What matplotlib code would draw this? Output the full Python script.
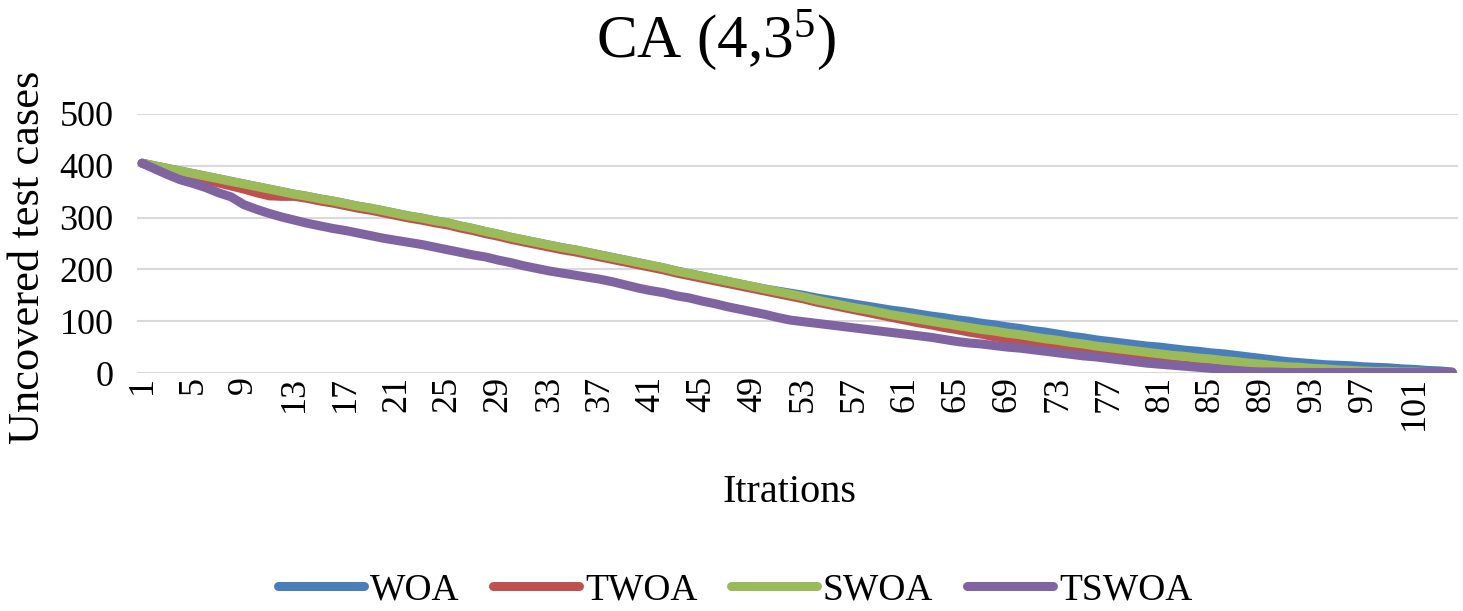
import matplotlib
matplotlib.use("Agg")
import matplotlib.pyplot as plt
import numpy as np

iterations = list(range(1, 105))

swoa = [405, 400, 395, 390, 385, 380, 375, 370, 365, 360,
        355, 350, 345, 341, 336, 332, 327, 322, 318, 313,
        308, 303, 299, 294, 290, 284, 279, 273, 268, 262,
        257, 252, 247, 242, 238, 233, 228, 223, 218, 213,
        208, 203, 197, 192, 187, 182, 177, 172, 167, 162,
        157, 152, 147, 141, 136, 131, 126, 122, 117, 112,
        108, 104, 100, 96, 92, 88, 84, 81, 77, 74,
        70, 66, 63, 59, 56, 52, 49, 46, 43, 40,
        37, 34, 32, 29, 27, 24, 22, 19, 17, 14,
        12, 11, 9, 8, 6, 5, 4, 3, 3, 2,
        2, 1, 1, 1]

woa = [405, 400, 395, 390, 385, 380, 375, 370, 365, 360,
       355, 350, 345, 341, 336, 332, 327, 322, 318, 313,
       308, 303, 299, 294, 290, 284, 279, 273, 268, 262,
       257, 252, 247, 242, 238, 233, 228, 223, 218, 213,
       208, 203, 197, 192, 187, 182, 177, 172, 167, 162,
       158, 154, 150, 145, 141, 137, 133, 129, 125, 121,
       118, 114, 110, 107, 103, 100, 96, 93, 89, 86,
       82, 79, 75, 71, 68, 64, 61, 58, 55, 52,
       50, 47, 44, 42, 39, 37, 34, 31, 28, 25,
       22, 20, 18, 16, 15, 14, 12, 11, 10, 8,
       7, 5, 4, 2]

twoa = [405, 399, 393, 387, 380, 373, 367, 361, 355, 348,
        342, 341, 341, 337, 332, 328, 323, 318, 314, 309,
        304, 299, 295, 290, 286, 280, 275, 269, 264, 258,
        253, 248, 243, 238, 234, 229, 224, 219, 214, 209,
        204, 199, 193, 188, 183, 178, 173, 168, 163, 158,
        153, 148, 143, 137, 132, 127, 122, 117, 112, 107,
        102, 97, 93, 88, 84, 79, 75, 70, 66, 61,
        57, 53, 49, 45, 41, 37, 33, 30, 27, 24,
        21, 18, 15, 13, 11, 9, 7, 5, 4, 3,
        2, 1, 1, 1, 1, 1, 1, 1, 1, 1,
        1, 1, 1, 1]

tswoa = [405, 394, 383, 373, 366, 358, 348, 340, 325, 316,
         308, 301, 295, 289, 284, 279, 275, 270, 265, 260,
         256, 252, 248, 243, 238, 233, 228, 224, 218, 213,
         207, 202, 197, 193, 189, 185, 181, 176, 170, 164,
         159, 155, 149, 145, 139, 134, 128, 123, 118, 113,
         107, 102, 99, 96, 93, 90, 87, 84, 81, 78,
         75, 72, 69, 65, 61, 58, 56, 53, 50, 48,
         45, 42, 39, 36, 33, 31, 28, 25, 22, 19,
         17, 15, 13, 11, 9, 7, 5, 3, 2, 2,
         1, 1, 1, 1, 1, 1, 1, 1, 1, 1,
         1, 1, 1, 1]

series_names = ["WOA", "TWOA", "SWOA", "TSWOA"]
colors = ["#4A7EBB", "#C0504D", "#9BBB59", "#8064A2"]
yticks = [0, 100, 200, 300, 400, 500]
xtick_labels = list(range(1, 105, 4))

plt.rcParams['font.family'] = ['Liberation Serif', 'DejaVu Serif']
plt.rcParams['mathtext.fontset'] = 'custom'
plt.rcParams['mathtext.rm'] = 'Liberation Serif'
plt.rcParams['mathtext.it'] = 'Liberation Serif:italic'

fig = plt.figure(figsize=(14.63, 6.11), dpi=100)
ax = fig.add_axes([137/1463, 1-373/611, (1458-137)/1463, (373-114)/611])

for name, data, c in zip(series_names, [woa, twoa, swoa, tswoa], colors):
    ax.plot(iterations, data, color=c, lw=6.5, label=name,
            solid_capstyle='round', solid_joinstyle='round')

ax.set_ylim(0, 500)
ax.set_xlim(0.6, 104.45)
ax.set_yticks(yticks)
ax.set_xticks(xtick_labels)
ax.set_xticklabels([str(v) for v in xtick_labels], rotation=90, fontsize=26)
ax.tick_params(axis='y', labelsize=26, length=0, pad=17)
ax.tick_params(axis='x', length=0, pad=2)
ax.grid(axis='y', color='#D9D9D9', lw=1.5)
ax.set_axisbelow(True)
for s in ax.spines.values():
    s.set_visible(False)

fig.text(28/1463, 1-257/611, "Uncovered test cases", fontsize=32, rotation=90,
         ha='center', va='center')
fig.text(790/1463, 1-492/611, "Itrations", fontsize=29, ha='center', va='center')
fig.text(716/1463, 1-40/611, r"CA (4,3$^{\mathrm{5}}$)", fontsize=44, ha='center', va='center')

leg = fig.legend(loc='center', bbox_to_anchor=(735/1463, 1-590/611), ncol=4,
                 frameon=False, fontsize=27, handlelength=2.3, handletextpad=0.15,
                 columnspacing=0.9)
for h in leg.get_lines():
    h.set_linewidth(6.5)
    h.set_solid_capstyle('round')

fig.savefig("out.png", dpi=100)
